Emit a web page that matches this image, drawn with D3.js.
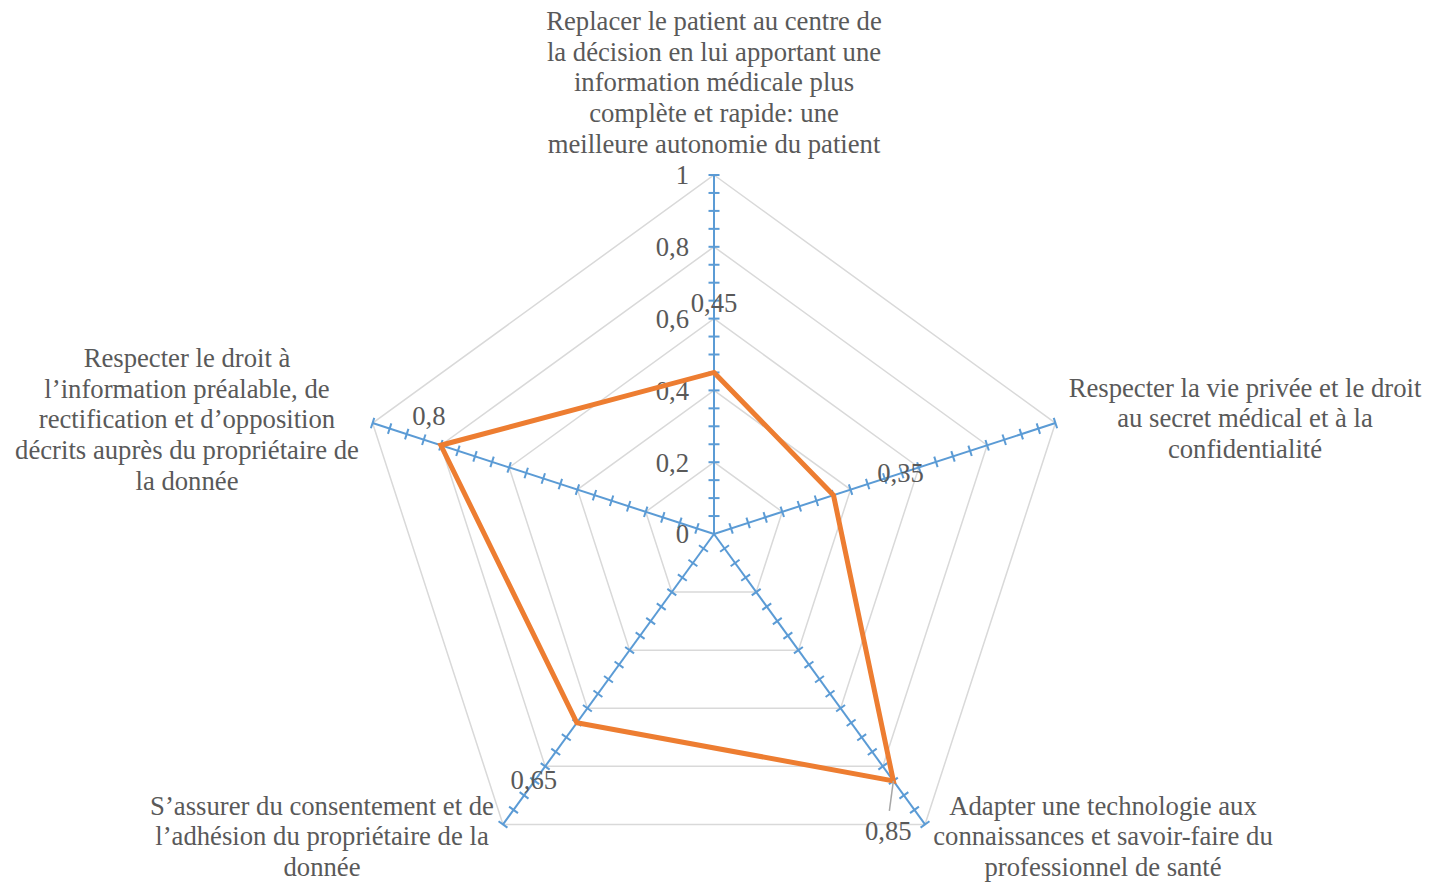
<!DOCTYPE html>
<html>
<head>
<meta charset="utf-8">
<script src="https://cdn.jsdelivr.net/npm/d3@7"></script>
<style>
  body { margin: 0; background: #fff; }
  text { font-family: "Liberation Serif", "Times New Roman", serif; fill: #595959; }
</style>
</head>
<body>
<div id="chart"></div>
<script>
// Radar chart - single series

var categories = [
  ["Replacer le patient au centre de", "la décision en lui apportant une", "information médicale plus", "complète et rapide: une", "meilleure autonomie du patient"],
  ["Respecter la vie privée et le droit", "au secret médical et à la", "confidentialité"],
  ["Adapter une technologie aux", "connaissances et savoir-faire du", "professionnel de santé"],
  ["S’assurer du consentement et de", "l’adhésion du propriétaire de la", "donnée"],
  ["Respecter le droit à", "l’information préalable, de", "rectification et d’opposition", "décrits auprès du propriétaire de", "la donnée"]
];
var values = [0.45, 0.35, 0.85, 0.65, 0.8];
var valueLabels = ["0,45", "0,35", "0,85", "0,65", "0,8"];
var gridTicks = [0, 0.2, 0.4, 0.6, 0.8, 1];
var gridTickLabels = ["0", "0,2", "0,4", "0,6", "0,8", "1"];

// label placement (styling, px from centre)
var catAnchor = [[0, -452], [531, -116], [389, 302], [-392, 302], [-527, -115]];
var valueLabelOffset = [[0, -70], [67, -23], [-5, 50], [-43, 57], [-12, -30]];

var width = 1429, height = 883;
var cx = 714, cy = 534, R = 359;
var fontSize = 26.7, lineH = 30.6;

var svg = d3.select("#chart").append("svg")
  .attr("width", width).attr("height", height);

var r = d3.scaleLinear().domain([0, 1]).range([0, R]);
var angle = function(i) { return -Math.PI / 2 + i * 2 * Math.PI / categories.length; };
var pt = function(i, v) { return [cx + r(v) * Math.cos(angle(i)), cy + r(v) * Math.sin(angle(i))]; };

// grid pentagons
var line = d3.line();
svg.append("g").selectAll("path")
  .data(gridTicks.slice(1))
  .enter().append("path")
  .attr("d", function(v) { return line(categories.map(function(c, i) { return pt(i, v); })) + "Z"; })
  .attr("fill", "none")
  .attr("stroke", "#d9d9d9")
  .attr("stroke-width", 1.5);

// axes with minor ticks
var minor = d3.range(1, 21).map(function(k) { return k * 0.05; });
var axes = svg.append("g");
categories.forEach(function(c, i) {
  var end = pt(i, 1);
  axes.append("line")
    .attr("x1", cx).attr("y1", cy).attr("x2", end[0]).attr("y2", end[1])
    .attr("stroke", "#5b9bd5").attr("stroke-width", 2);
  var a = angle(i), nx = -Math.sin(a), ny = Math.cos(a);
  axes.selectAll(null).data(minor).enter().append("line")
    .attr("x1", function(v) { return pt(i, v)[0] - nx * 5.5; })
    .attr("y1", function(v) { return pt(i, v)[1] - ny * 5.5; })
    .attr("x2", function(v) { return pt(i, v)[0] + nx * 5.5; })
    .attr("y2", function(v) { return pt(i, v)[1] + ny * 5.5; })
    .attr("stroke", "#5b9bd5").attr("stroke-width", 2);
});

// radial tick labels
svg.append("g").selectAll("text")
  .data(gridTicks)
  .enter().append("text")
  .attr("x", cx - 25)
  .attr("y", function(v) { return cy - r(v); })
  .attr("dy", "0.35em")
  .attr("text-anchor", "end")
  .style("font-size", fontSize + "px")
  .text(function(v, k) { return gridTickLabels[k]; });

// series
svg.append("path")
  .attr("d", line(values.map(function(v, i) { return pt(i, v); })) + "Z")
  .attr("fill", "none")
  .attr("stroke", "#ed7d31")
  .attr("stroke-width", 5)
  .attr("stroke-linejoin", "miter");

// leader line for bottom-right label
var p2 = pt(2, values[2]);
svg.append("line")
  .attr("x1", p2[0]).attr("y1", p2[1])
  .attr("x2", p2[0] - 4).attr("y2", p2[1] + 30)
  .attr("stroke", "#a6a6a6").attr("stroke-width", 1.5);

// value labels
svg.append("g").selectAll("text")
  .data(values)
  .enter().append("text")
  .attr("x", function(v, i) { return pt(i, v)[0] + valueLabelOffset[i][0]; })
  .attr("y", function(v, i) { return pt(i, v)[1] + valueLabelOffset[i][1]; })
  .attr("dy", "0.35em")
  .attr("text-anchor", "middle")
  .style("font-size", fontSize + "px")
  .text(function(v, i) { return valueLabels[i]; });

// category labels
categories.forEach(function(lines, i) {
  var t = svg.append("text")
    .attr("text-anchor", "middle")
    .style("font-size", fontSize + "px");
  lines.forEach(function(s, k) {
    t.append("tspan")
      .attr("x", cx + catAnchor[i][0])
      .attr("y", cy + catAnchor[i][1] + k * lineH - (lines.length - 1) * lineH / 2)
      .attr("dy", "0.35em")
      .text(s);
  });
});
</script>
</body>
</html>
